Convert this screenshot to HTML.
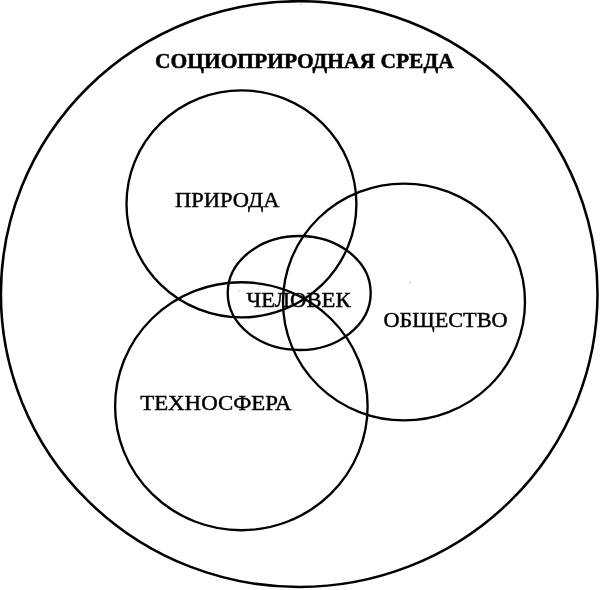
<!DOCTYPE html>
<html><head><meta charset="utf-8">
<style>
html,body{margin:0;padding:0;background:#fff;}
body{width:600px;height:590px;overflow:hidden;position:relative;}
svg{position:absolute;left:0;top:0;will-change:transform;}
text{font-family:"Liberation Serif",serif;fill:#000;stroke:#000;stroke-width:0.45px;}
</style></head><body>
<svg width="600" height="590" viewBox="0 0 600 590">
<g fill="none" stroke="#000" stroke-width="2.35">
<ellipse cx="299.2" cy="294.1" rx="298.3" ry="292.9" stroke-width="2.55"/>
<ellipse cx="241.45" cy="203.9" rx="114.95" ry="113.5"/>
<ellipse cx="404" cy="302" rx="121" ry="118.4"/>
<ellipse cx="241.35" cy="406.2" rx="126.25" ry="124"/>
<ellipse cx="299.2" cy="293" rx="71.5" ry="57"/>
</g>
<g fill="#bbb" stroke="none"><circle cx="410.3" cy="282.3" r="0.9"/><circle cx="238.6" cy="291" r="0.7"/><circle cx="301" cy="4" r="0.7"/></g>
<text x="155" y="67.5" font-size="21.3" font-weight="bold" style="stroke-width:0.5px" textLength="298.7" lengthAdjust="spacingAndGlyphs">СОЦИОПРИРОДНАЯ СРЕДА</text>
<text x="175" y="206.5" font-size="22" textLength="104.5" lengthAdjust="spacingAndGlyphs">ПРИРОДА</text>
<text x="246.5" y="306.6" font-size="22" textLength="104" lengthAdjust="spacingAndGlyphs">ЧЕЛОВЕК</text>
<text x="383.5" y="327.2" font-size="22" textLength="124" lengthAdjust="spacingAndGlyphs">ОБЩЕСТВО</text>
<text x="140.2" y="410.3" font-size="22" textLength="151.3" lengthAdjust="spacingAndGlyphs">ТЕХНОСФЕРА</text>
</svg>
</body></html>
